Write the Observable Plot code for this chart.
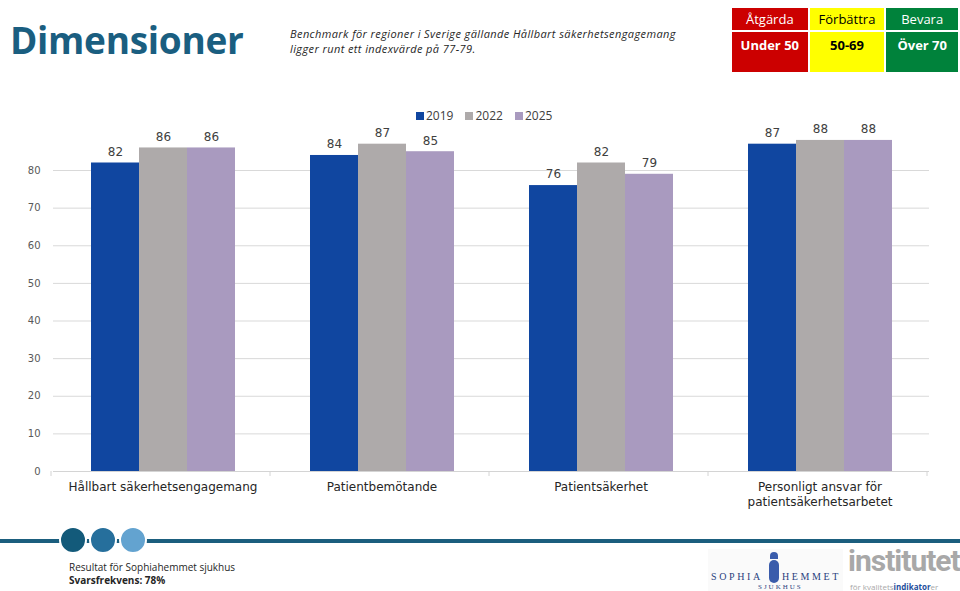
<!DOCTYPE html>
<html lang="sv">
<head>
<meta charset="utf-8">
<script src="https://cdn.jsdelivr.net/npm/d3@7"></script>
<script src="https://cdn.jsdelivr.net/npm/@observablehq/plot@0.6"></script>
<style>
  html, body { margin: 0; padding: 0; background: #fff; }
  body { width: 960px; height: 591px; position: relative; overflow: hidden; font-family: "Open Sans", "DejaVu Sans", sans-serif; }
  .abs { position: absolute; }
  #title { left: 10px; top: 14px; font-size: 37px; font-weight: 700; color: #1a5e80; letter-spacing: -0.3px; }
  #subtitle { left: 290px; top: 26px; font-size: 11px; font-style: italic; color: #262626; line-height: 15px; letter-spacing: 0.4px; }
  #scale { left: 730px; top: 6px; border-collapse: separate; border-spacing: 2px; }
  #scale td { text-align: center; font-size: 13px; padding: 0; }
  #scale tr.head td { height: 22px; }
  #scale tr.vals td { height: 36px; font-weight: 700; vertical-align: top; padding-top: 4px; }
  #legend { left: 416px; top: 107px; display: flex; gap: 12px; font-size: 12px; color: #404040; }
  #legend span { display: inline-flex; align-items: center; gap: 2px; }
  #legend i { display: inline-block; width: 8px; height: 8px; }
  #chart { left: 0; top: 100px; }
  #rule { left: 0; top: 539px; width: 960px; height: 4px; background: #1b5e7e; }
  .dot { width: 24px; height: 24px; border-radius: 50%; border: 2px solid #fff; top: 526px; }
  #foot { left: 69px; top: 561px; font-size: 10px; color: #262626; line-height: 13px; }
  #sophia { left: 708px; top: 549px; width: 135px; height: 42px; background: #fafafa; font-family: "Liberation Serif", serif; color: #2a3f7e; }
  #inst { left: 848px; top: 546px; font-size: 30px; font-weight: 700; color: #a8a8a8; font-family: Roboto, sans-serif; line-height: 30px; letter-spacing: -1px; white-space: nowrap; }
  #inst2 { left: 850px; top: 583px; font-size: 8px; color: #a8a8a8; white-space: nowrap; line-height: 8px; }
</style>
</head>
<body>
<div id="title" class="abs">Dimensioner</div>
<div id="subtitle" class="abs">Benchmark för regioner i Sverige gällande Hållbart säkerhetsengagemang<br>ligger runt ett indexvärde på 77-79.</div>

<table id="scale" class="abs">
  <tr class="head">
    <td style="width:76px;background:#cc0000;color:#fff">Åtgärda</td>
    <td style="width:75px;background:#ffff00;color:#000">Förbättra</td>
    <td style="width:72px;background:#00823b;color:#fff">Bevara</td>
  </tr>
  <tr class="vals">
    <td style="background:#cc0000;color:#fff">Under 50</td>
    <td style="background:#ffff00;color:#000">50-69</td>
    <td style="background:#00823b;color:#fff">Över 70</td>
  </tr>
</table>

<div id="legend" class="abs"></div>
<div id="chart" class="abs"></div>

<div id="rule" class="abs"></div>
<div class="abs dot" style="left:59px;background:#135a7a"></div>
<div class="abs dot" style="left:89px;background:#266f9c"></div>
<div class="abs dot" style="left:119px;background:#63a3d0"></div>

<div id="foot" class="abs">Resultat för Sophiahemmet sjukhus<br><b>Svarsfrekvens: 78%</b></div>

<div id="sophia" class="abs">
  <div style="position:absolute;left:3px;top:22px;font-size:10px;letter-spacing:2.6px">SOPHIA</div>
  <div style="position:absolute;left:62px;top:3px;width:8px;height:7px;background:#3a5cab;border-radius:4px 4px 0 0"></div>
  <div style="position:absolute;left:61px;top:11px;width:10px;height:23px;background:#3a5cab;border-radius:5px"></div>
  <div style="position:absolute;left:74px;top:22px;font-size:10px;letter-spacing:2.6px">HEMMET</div>
  <div style="position:absolute;left:50px;top:34px;font-size:7px;letter-spacing:2px">SJUKHUS</div>
</div>
<div id="inst" class="abs">institutet</div>
<div id="inst2" class="abs">för kvalitets<b style="color:#1f4e9c">indikator</b>er</div>

<script>
// Dimensions and survey years
const categories = [
  "Hållbart säkerhetsengagemang",
  "Patientbemötande",
  "Patientsäkerhet",
  "Personligt ansvar för\npatientsäkerhetsarbetet"
];
const years = ["2019", "2022", "2025"];

// Index values per year, in category order
const values2019 = [82, 84, 76, 87];
const values2022 = [86, 87, 82, 88];
const values2025 = [86, 85, 79, 88];

const yTicks = [0, 10, 20, 30, 40, 50, 60, 70, 80];
const yearColors = ["#1046a0", "#aeaaaa", "#a99abf"];

const seriesByYear = [values2019, values2022, values2025];
const rows = categories.flatMap((category, i) =>
  years.map((year, j) => ({category, year, value: seriesByYear[j][i]}))
);

// Legend
const legend = d3.select("#legend");
years.forEach((y, j) => {
  const s = legend.append("span");
  s.append("i").style("background", yearColors[j]);
  s.append("text").text(y);
});

const font = "'DejaVu Sans', sans-serif";

const chart = Plot.plot({
  width: 960,
  height: 410,
  marginLeft: 51,
  marginRight: 30,
  marginTop: 32.4,
  marginBottom: 39,
  facet: {data: rows, x: "category"},
  fx: {domain: categories, paddingInner: 0, paddingOuter: 0, axis: null},
  x: {domain: years, paddingInner: 0, paddingOuter: 0.77, axis: null},
  y: {domain: [0, 90], ticks: yTicks, tickSize: 0, tickPadding: 13, label: null, tickFormat: d => String(d)},
  color: {domain: years, range: yearColors},
  style: {fontFamily: font, fontSize: "10px", color: "#595959", background: "transparent", overflow: "visible"},
  marks: [
    Plot.ruleY(yTicks.slice(1), {stroke: "#d9d9d9", strokeWidth: 1}),
    Plot.barY(rows, {x: "year", y: "value", fill: "year"}),
    Plot.ruleY([0], {stroke: "#d4d4d4", strokeWidth: 1}),
    Plot.text(rows, {x: "year", y: "value", text: d => String(d.value), dy: -11, fill: "#404040", fontSize: 12}),
    Plot.text(rows, {
      filter: d => d.year === years[0],
      text: "category",
      frameAnchor: "bottom",
      lineAnchor: "top",
      dy: 9,
      fontSize: 12,
      fill: "#262626",
      lineHeight: 1.25
    })
  ]
});

document.getElementById("chart").appendChild(chart);

// Category separators below the baseline
const fxs = chart.scale("fx");
const ys = chart.scale("y");
const bw = fxs.bandwidth ?? (fxs.range[1] - fxs.range[0]) / categories.length;
const y0 = ys.range[0];
d3.select(chart).append("g")
  .attr("stroke", "#d4d4d4")
  .selectAll("line")
  .data(d3.range(categories.length + 1))
  .join("line")
  .attr("x1", i => fxs.range[0] + i * bw)
  .attr("x2", i => fxs.range[0] + i * bw)
  .attr("y1", y0)
  .attr("y2", y0 + 5);
</script>
</body>
</html>
